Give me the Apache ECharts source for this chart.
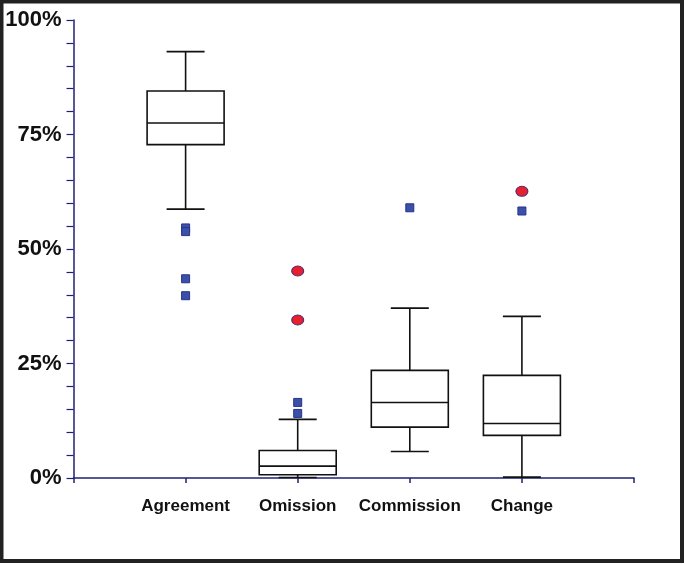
<!DOCTYPE html>
<html>
<head>
<meta charset="utf-8">
<script src="https://cdn.jsdelivr.net/npm/echarts@6/dist/echarts.min.js"></script>
<style>
html,body{margin:0;padding:0;background:#fff;}
#chart{width:685px;height:564px;}
</style>
</head>
<body>
<div id="chart"></div>
<script>
// Category slots (first and last are empty padding slots)
const categories = ['', 'Agreement', 'Omission', 'Commission', 'Change', ''];
// Box stats per category: [low whisker, Q1, median, Q3, high whisker] in %
const boxCategoryIndex = [1, 2, 3, 4];
const lowWhisker = [58.7, 0.1, 5.8, 0.2];
const q1Values = [72.8, 0.7, 11.1, 9.3];
const medianValues = [77.5, 2.6, 16.5, 11.9];
const q3Values = [84.5, 6.0, 23.5, 22.4];
const highWhisker = [93.1, 12.8, 37.1, 35.3];
// Outliers (blue squares) and extreme values (red circles)
const outlierCats = [1, 1, 1, 1, 2, 2, 3, 4];
const outlierValues = [54.6, 53.8, 43.5, 39.8, 16.5, 14.1, 59.0, 58.3];
const extremeCats = [2, 2, 4];
const extremeValues = [45.2, 34.5, 62.6];
const yTicks = [0, 25, 50, 75, 100];

const boxData = boxCategoryIndex.map((c, i) => [c, lowWhisker[i], q1Values[i], medianValues[i], q3Values[i], highWhisker[i]]);
const outlierData = outlierCats.map((c, i) => [c, outlierValues[i]]);
const extremeData = extremeCats.map((c, i) => [c, extremeValues[i]]);

const axisColor = '#1f1f78';
const font = "'Liberation Sans', Arial, sans-serif";

const chart = echarts.init(document.getElementById('chart'));
chart.setOption({
  backgroundColor: '#fff',
  animation: false,
  graphic: [{
    type: 'rect',
    shape: {x: 1.5, y: 1.5, width: 680.5, height: 559.5},
    style: {fill: 'none', stroke: '#222', lineWidth: 4},
    z: 100
  }],
  grid: {left: 73.5, right: 51, top: 20, bottom: 86, containLabel: false},
  xAxis: {
    type: 'category',
    data: categories,
    boundaryGap: false,
    axisLine: {lineStyle: {color: axisColor, width: 1.5}},
    axisTick: {show: true, length: 5, interval: 0, lineStyle: {color: axisColor, width: 1.5}},
    axisLabel: {interval: 0, margin: 20, fontFamily: font, fontSize: 17, fontWeight: 'bold', color: '#111'},
    splitLine: {show: false}
  },
  yAxis: {
    type: 'value',
    min: yTicks[0],
    max: yTicks[yTicks.length - 1],
    interval: 25,
    axisLine: {show: true, lineStyle: {color: axisColor, width: 1.5}},
    axisTick: {show: true, length: 7, lineStyle: {color: axisColor, width: 1.2}},
    minorTick: {show: true, splitNumber: 5, length: 7, lineStyle: {color: axisColor, width: 1.2}},
    axisLabel: {formatter: '{value}%', margin: 12, fontFamily: font, fontSize: 22, fontWeight: 'bold', color: '#111'},
    splitLine: {show: false},
    minorSplitLine: {show: false}
  },
  series: [
    {
      type: 'custom',
      data: boxData,
      encode: {x: 0, y: [1, 2, 3, 4, 5]},
      z: 5,
      renderItem: function (params, api) {
        const c = api.value(0);
        const pLow = api.coord([c, api.value(1)]);
        const pQ1 = api.coord([c, api.value(2)]);
        const pMed = api.coord([c, api.value(3)]);
        const pQ3 = api.coord([c, api.value(4)]);
        const pHigh = api.coord([c, api.value(5)]);
        const x = pMed[0];
        const hw = 38.5, cw = 19;
        const st = {stroke: '#111', lineWidth: 1.6, fill: 'none'};
        return {
          type: 'group',
          children: [
            {type: 'rect', shape: {x: x - hw, y: pQ3[1], width: hw * 2, height: pQ1[1] - pQ3[1]}, style: {stroke: '#111', lineWidth: 1.6, fill: '#fff'}},
            {type: 'line', shape: {x1: x - hw, y1: pMed[1], x2: x + hw, y2: pMed[1]}, style: st},
            {type: 'line', shape: {x1: x, y1: pQ3[1], x2: x, y2: pHigh[1]}, style: st},
            {type: 'line', shape: {x1: x, y1: pQ1[1], x2: x, y2: pLow[1]}, style: st},
            {type: 'line', shape: {x1: x - cw, y1: pHigh[1], x2: x + cw, y2: pHigh[1]}, style: st},
            {type: 'line', shape: {x1: x - cw, y1: pLow[1], x2: x + cw, y2: pLow[1]}, style: st}
          ]
        };
      }
    },
    {
      type: 'scatter',
      data: outlierData,
      symbol: 'rect',
      symbolSize: 8,
      z: 6,
      itemStyle: {color: '#3d50a8', borderColor: '#26338a', borderWidth: 1, opacity: 1}
    },
    {
      type: 'scatter',
      data: extremeData,
      symbol: 'circle',
      symbolSize: [12, 10],
      z: 6,
      itemStyle: {color: '#e8202c', borderColor: '#4a2a7a', borderWidth: 1, opacity: 1}
    }
  ]
});
</script>
</body>
</html>
